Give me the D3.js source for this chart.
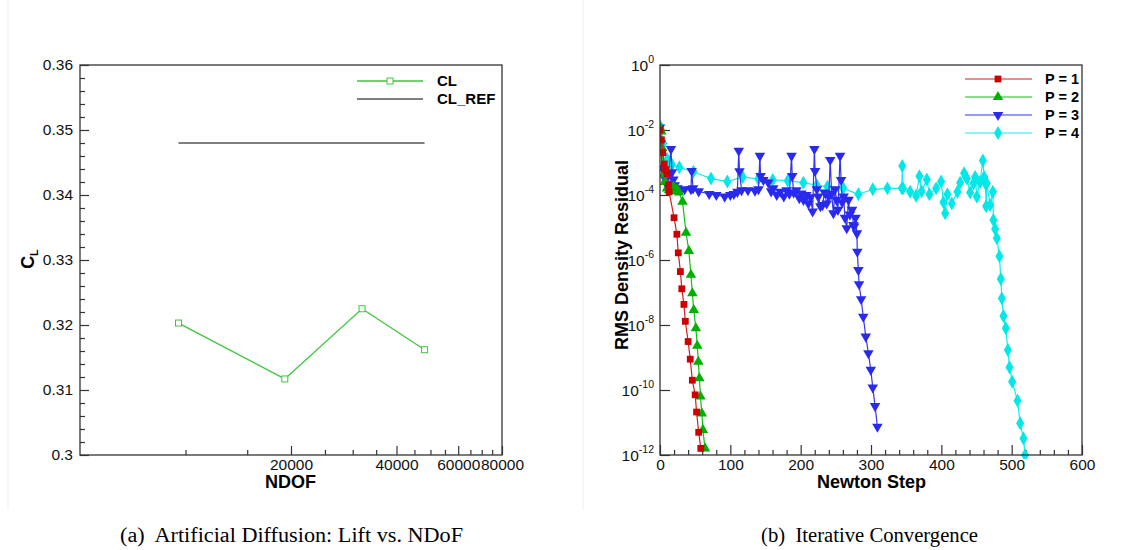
<!DOCTYPE html>
<html>
<head>
<meta charset="utf-8">
<script src="https://cdn.jsdelivr.net/npm/d3@7"></script>
<style>
  html, body { margin: 0; padding: 0; background: #fff; }
  svg { display: block; }
</style>
</head>
<body>
<svg id="chart" width="1147" height="550"></svg>
<script>
// ---------- Data: panel (a) ----------
const ndof = [9550, 19200, 31900, 48100];
const clValues = [0.3203, 0.3117, 0.3225, 0.3162];
const clRefValue = [0.348, 0.348];
const clRefNdof = [9550, 48100];
const ndofMajorTicks = [20000, 40000, 60000, 80000];
const ndofMinorTicks = [10000, 15000, 25000, 30000, 35000, 45000, 50000, 55000, 65000, 70000, 75000];
const clMajorTicks = [0.30, 0.31, 0.32, 0.33, 0.34, 0.35, 0.36];

// ---------- Data: panel (b) [Newton step, RMS density residual] ----------
const p1 = [[0,1.0e-2],[2,5e-3],[4,2e-3],[6,9e-4],[8,6e-4],[10,4.5e-4],[12,2e-4],[13,1.25e-4],
  [20,2.0e-5],[24,6.2e-6],[26,1.66e-6],[29,4.4e-7],[31,1.3e-7],[34,4.3e-8],[36,1.3e-8],[40,3.1e-9],
  [43,8.9e-10],[46,2.0e-10],[50,7.1e-11],[52,2.1e-11],[55,5.0e-12],[58,1.6e-12]];
const p2 = [[0,1.2e-2],[2,9e-3],[3,2.8e-3],[5,4.2e-4],[7,2.5e-4],[10,1.6e-4],[13,1.4e-4],[16,1.5e-4],
  [19,1.8e-4],[21,1.3e-4],[24,1.5e-4],[27,1.2e-4],[32,6.2e-5],[37,6.9e-6],[41,1.9e-6],[44,3.5e-7],
  [46,9.5e-8],[48,2.9e-8],[51,7.9e-9],[53,2.3e-9],[54.5,7.4e-10],[56,2.3e-10],[57.5,6.3e-11],
  [59.5,1.9e-11],[61,5.9e-12],[64,1.6e-12]];
const p3 = [[0,1.2e-2],[1,4e-3],[3,6.8e-4],[6,3.5e-4],[9,2.2e-4],[12,4e-4],[15.6,2.6e-3],[17,5e-4],
  [19,3e-4],[21,2.0e-4],[25,1.6e-4],[29,1.4e-4],[35,1.5e-4],[44,1.5e-4],[45,5.5e-4],[47,1.6e-4],
  [55,1.3e-4],[70,1.07e-4],[80,1.0e-4],[92,8.9e-5],[100,1.0e-4],[105,1.07e-4],[110,1.25e-4],
  [112,2.3e-3],[113,5.4e-4],[116,1.4e-4],[125,1.4e-4],[135,1.35e-4],[140,1.5e-4],[142,1.6e-3],
  [143,3.8e-4],[147,2.9e-4],[154,2.4e-4],[158,1.3e-4],[161,1.6e-4],[166,1.0e-4],[171,1.26e-4],
  [176,9e-5],[180,1.4e-4],[184,1.1e-4],[187,1.6e-3],[188,3.8e-4],[190,1.2e-4],[194,1.4e-4],
  [198,8e-5],[201,1.1e-4],[204,7.1e-5],[208,1.0e-4],[211,5.5e-5],[214,8.5e-5],[217,3.1e-5],
  [219.5,2.6e-3],[220.5,5.5e-4],[223,1.5e-4],[225,8.9e-5],[228,4.5e-5],[231,4.9e-5],[234,1.2e-4],
  [237,5.5e-5],[240,9e-5],[242,1.2e-3],[244,1.1e-4],[246.5,2.75e-5],[249,1.5e-4],[251,7.1e-5],
  [253,3.5e-5],[256,1.6e-3],[257.5,2.9e-4],[259,6e-5],[261,8.9e-5],[263,2.0e-5],[265.5,9.5e-6],
  [268,7.1e-5],[270,2.5e-5],[273,3.5e-5],[275,1.2e-5],[276,1.07e-5],[278,2.0e-5],[280,6.6e-6],
  [280.5,1.8e-6],[282,4.9e-7],[283,1.8e-7],[286,6.2e-8],[289,1.8e-8],[292.6,4.4e-9],[296.3,1.35e-9],
  [299.7,4.2e-10],[302.5,1.2e-10],[305.8,3.2e-11],[309.1,7.4e-12]];
const p4 = [[0,1.35e-2],[4.7,3.9e-3],[10.4,1.26e-3],[17,8.5e-4],[27.5,7.1e-4],[47.4,5.2e-4],
  [72.5,3.2e-4],[95.7,2.6e-4],[117.6,3.6e-4],[139.8,3.1e-4],[160.3,2.9e-4],[181.6,2.75e-4],
  [203.8,2.4e-4],[222.9,2.0e-4],[238,1.8e-4],[260.7,1.6e-4],[282.1,1.05e-4],[302.6,1.5e-4],
  [323.3,1.6e-4],[343.8,1.6e-4],[344.5,7.8e-4],[345.5,1.6e-4],[355.6,1.26e-4],[364.2,9.5e-5],
  [368.8,3.8e-4],[372,1.3e-4],[379.4,3.0e-4],[383.1,1.05e-4],[392.6,1.6e-4],[399.7,2.6e-4],
  [403,6e-5],[405.4,2.75e-5],[408.7,1.05e-4],[414.9,5.5e-5],[422.9,1.26e-4],[426.7,2.4e-4],
  [432.4,4.7e-4],[436.3,3.2e-4],[441,1.2e-4],[445.7,2.3e-4],[448.1,3.6e-4],[450.5,8.9e-5],
  [455,2.5e-4],[459,1.15e-3],[460.9,3.6e-4],[462.5,2.3e-4],[463.7,4.5e-5],[464.6,2.3e-4],
  [469.4,4.9e-5],[473.3,1.26e-4],[474,1.7e-5],[476.5,9e-6],[478.9,4.7e-6],[482.6,1.3e-6],
  [484.6,2.6e-7],[486,6.6e-8],[488.3,1.9e-8],[491.7,7.9e-9],[494.6,1.7e-9],[496.9,5.0e-10],
  [500.7,1.8e-10],[508.3,4.7e-11],[512.1,9.5e-12],[516.8,3.2e-12],[519,1.0e-12]];
const seriesNames = ["P = 1", "P = 2", "P = 3", "P = 4"];
const stepMajorTicks = [0, 100, 200, 300, 400, 500, 600];
const residMajorTicks = [1e-12, 1e-10, 1e-8, 1e-6, 1e-4, 1e-2, 1];
const residTickExponents = [-12, -10, -8, -6, -4, -2, 0];
const captions = ["(a)  Artificial Diffusion: Lift vs. NDoF", "(b)  Iterative Convergence"];

// ---------- Drawing ----------
const svg = d3.select("#chart");
const FONT = "'Liberation Sans', Arial, Helvetica, sans-serif";
const AX = "#333";
const TICKFS = 15.5;

// faint panel borders
svg.append("line").attr("x1", 8).attr("x2", 8).attr("y1", 0).attr("y2", 510).attr("stroke", "#eeeeee");
svg.append("line").attr("x1", 583).attr("x2", 583).attr("y1", 0).attr("y2", 510).attr("stroke", "#eeeeee");

function styleAxis(g, size) {
  g.attr("font-family", FONT).attr("font-size", size).attr("color", AX);
  g.select(".domain").remove();
  g.selectAll(".tick line").attr("stroke-width", 1.2);
  g.selectAll(".tick text").attr("fill", "#111");
}

// ===== Panel (a) =====
const xL = d3.scaleLog().domain([5000, 80000]).range([80, 502]);
const yL = d3.scaleLinear().domain([0.30, 0.36]).range([455, 65]);

svg.append("g").attr("transform", "translate(0,455)")
  .call(d3.axisBottom(xL).tickValues(ndofMinorTicks).tickSize(-5).tickFormat(""))
  .call(g => styleAxis(g, TICKFS));
svg.append("g").attr("transform", "translate(0,455)")
  .call(d3.axisBottom(xL).tickValues(ndofMajorTicks).tickSize(-9).tickPadding(4).tickFormat(d3.format("d")))
  .call(g => styleAxis(g, TICKFS));

const clMinor = d3.range(0, 31).map(i => 0.30 + i * 0.002).filter((d, i) => i % 5 !== 0);
svg.append("g").attr("transform", "translate(80,0)")
  .call(d3.axisLeft(yL).tickValues(clMinor).tickSize(-5).tickFormat(""))
  .call(g => styleAxis(g, TICKFS));
svg.append("g").attr("transform", "translate(80,0)")
  .call(d3.axisLeft(yL).tickValues(clMajorTicks).tickSize(-9).tickPadding(7).tickFormat(d => String(+d.toFixed(2))))
  .call(g => styleAxis(g, TICKFS));

svg.append("rect").attr("x", 80).attr("y", 65).attr("width", 422).attr("height", 390)
  .attr("fill", "none").attr("stroke", AX).attr("stroke-width", 1.3);

// CL_REF line
svg.append("path")
  .datum(clRefNdof.map((n, i) => [n, clRefValue[i]]))
  .attr("d", d3.line().x(d => xL(d[0])).y(d => yL(d[1])))
  .attr("fill", "none").attr("stroke", "#000").attr("stroke-width", 1.2);

// CL line
const clColor = "#3dc63d";
svg.append("path")
  .datum(ndof.map((n, i) => [n, clValues[i]]))
  .attr("d", d3.line().x(d => xL(d[0])).y(d => yL(d[1])))
  .attr("fill", "none").attr("stroke", clColor).attr("stroke-width", 1.3);
svg.selectAll(".clpt").data(ndof.map((n, i) => [n, clValues[i]])).enter()
  .append("rect").attr("class", "clpt")
  .attr("x", d => xL(d[0]) - 3).attr("y", d => yL(d[1]) - 3).attr("width", 6).attr("height", 6)
  .attr("fill", "#fff").attr("stroke", clColor).attr("stroke-width", 1);

// legend (a)
const legA = svg.append("g");
legA.append("line").attr("x1", 357).attr("x2", 423).attr("y1", 81).attr("y2", 81).attr("stroke", clColor).attr("stroke-width", 1.3);
legA.append("rect").attr("x", 387).attr("y", 78).attr("width", 6).attr("height", 6).attr("fill", "#fff").attr("stroke", clColor);
legA.append("text").attr("x", 437).attr("y", 86).text("CL")
  .attr("font-family", FONT).attr("font-size", 15).attr("font-weight", "bold");
legA.append("line").attr("x1", 357).attr("x2", 423).attr("y1", 99).attr("y2", 99).attr("stroke", "#000").attr("stroke-width", 1.2);
legA.append("text").attr("x", 437).attr("y", 103.5).text("CL_REF")
  .attr("font-family", FONT).attr("font-size", 15).attr("font-weight", "bold");

// axis titles (a)
svg.append("text").attr("x", 290.5).attr("y", 488).attr("text-anchor", "middle")
  .attr("font-family", FONT).attr("font-size", 18).attr("font-weight", "bold").text("NDOF");
const cl = svg.append("text").attr("transform", "translate(34,259) rotate(-90)").attr("text-anchor", "middle")
  .attr("font-family", FONT).attr("font-size", 18).attr("font-weight", "bold");
cl.append("tspan").text("C");
cl.append("tspan").attr("font-size", 11).attr("dy", 4).text("L");

// ===== Panel (b) =====
const xR = d3.scaleLinear().domain([0, 600]).range([660, 1082]);
const yR = d3.scaleLog().domain([1e-12, 1]).range([455, 65]);

svg.append("g").attr("transform", "translate(0,455)")
  .call(d3.axisBottom(xR).tickValues(d3.range(0, 601, 20).filter(d => d % 100 !== 0)).tickSize(-5).tickFormat(""))
  .call(g => styleAxis(g, TICKFS));
svg.append("g").attr("transform", "translate(0,455)")
  .call(d3.axisBottom(xR).tickValues(stepMajorTicks).tickSize(-10).tickPadding(4).tickFormat(d3.format("d")))
  .call(g => styleAxis(g, TICKFS));
svg.append("g").attr("transform", "translate(660,0)")
  .call(d3.axisLeft(yR).tickValues(residMajorTicks).tickSize(-10).tickFormat(""))
  .call(g => styleAxis(g, TICKFS));

// y tick labels with superscripts
residMajorTicks.forEach((v, i) => {
  const t = svg.append("text").attr("x", 654).attr("y", yR(v) + 6).attr("text-anchor", "end")
    .attr("font-family", FONT).attr("font-size", 15.5).attr("fill", "#111");
  t.append("tspan").text("10");
  t.append("tspan").attr("font-size", 10.5).attr("dy", -8).text(String(residTickExponents[i]));
});

const seriesData = [p1, p2, p3, p4];
const lineColors = ["#d02020", "#10c010", "#3535f0", "#10eeee"];
const markColors = ["#cc0000", "#00b000", "#2a2aee", "#00e8e8"];
const symbols = [
  { type: d3.symbolSquare, size: 46, rot: 0 },
  { type: d3.symbolTriangle, size: 48, rot: 0 },
  { type: d3.symbolTriangle, size: 48, rot: 180 },
  { type: d3.symbolDiamond, size: 56, rot: 0 }
];

const clipId = "clipR";
svg.append("clipPath").attr("id", clipId).append("rect").attr("x", 660).attr("y", 62).attr("width", 422).attr("height", 397);

const lineGen = d3.line().x(d => xR(d[0])).y(d => yR(d[1]));
// draw in order 4,3,2,1 (1 on top)
[3, 2, 1, 0].forEach(k => {
  const g = svg.append("g").attr("clip-path", `url(#${clipId})`);
  g.append("path").datum(seriesData[k]).attr("d", lineGen)
    .attr("fill", "none").attr("stroke", lineColors[k]).attr("stroke-width", 1.2);
  const sym = d3.symbol().type(symbols[k].type).size(symbols[k].size);
  g.selectAll("path.m").data(seriesData[k]).enter().append("path").attr("class", "m")
    .attr("d", sym)
    .attr("transform", d => `translate(${xR(d[0])},${yR(d[1])}) rotate(${symbols[k].rot})`)
    .attr("fill", markColors[k]);
});

svg.append("rect").attr("x", 660).attr("y", 65).attr("width", 422).attr("height", 390)
  .attr("fill", "none").attr("stroke", AX).attr("stroke-width", 1.3);

// legend (b)
const legY = [79, 97, 115, 133];
seriesNames.forEach((name, k) => {
  svg.append("line").attr("x1", 965).attr("x2", 1032).attr("y1", legY[k]).attr("y2", legY[k])
    .attr("stroke", lineColors[k]).attr("stroke-width", 1.2);
  svg.append("path").attr("d", d3.symbol().type(symbols[k].type).size(symbols[k].size))
    .attr("transform", `translate(998,${legY[k]}) rotate(${symbols[k].rot})`).attr("fill", markColors[k]);
  svg.append("text").attr("x", 1045).attr("y", legY[k] + 5).text(name)
    .attr("font-family", FONT).attr("font-size", 14.5).attr("font-weight", "bold");
});

// axis titles (b)
svg.append("text").attr("x", 871.5).attr("y", 488).attr("text-anchor", "middle")
  .attr("font-family", FONT).attr("font-size", 18).attr("font-weight", "bold").text("Newton Step");
svg.append("text").attr("transform", "translate(628,255) rotate(-90)").attr("text-anchor", "middle")
  .attr("font-family", FONT).attr("font-size", 18).attr("font-weight", "bold").text("RMS Density Residual");

// captions
const SERIF = "'Liberation Serif', 'Times New Roman', serif";
[[120, 343, captions[0]], [761, 217, captions[1]]].forEach(([x, w, t]) => {
  svg.append("text").attr("x", x).attr("y", 542)
    .attr("font-family", SERIF).attr("font-size", 20.5).attr("xml:space", "preserve")
    .attr("textLength", w).attr("lengthAdjust", "spacingAndGlyphs")
    .style("white-space", "pre").text(t);
});
</script>
</body>
</html>
